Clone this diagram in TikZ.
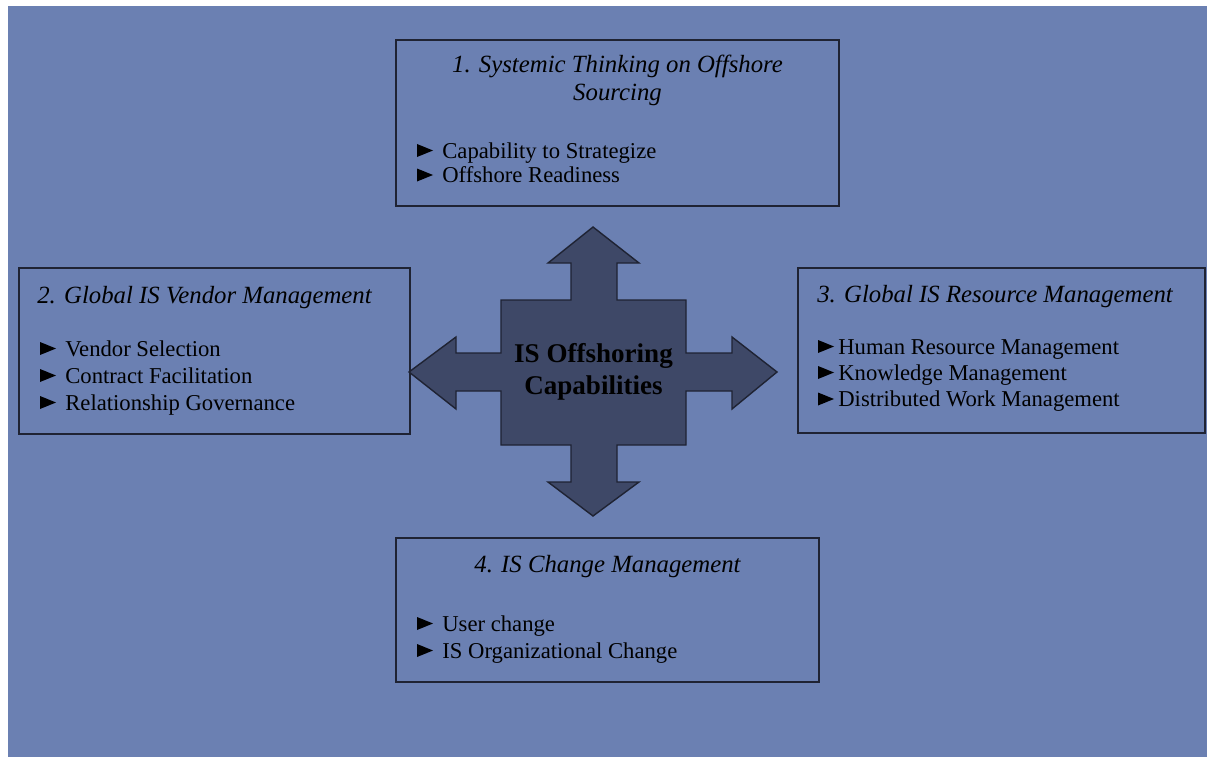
\documentclass[tikz,border=0pt]{standalone}
\usepackage{fontspec}
\setmainfont{Liberation Serif}
\definecolor{bgblue}{HTML}{6B80B2}
\definecolor{coredark}{HTML}{3E4867}
\definecolor{edge}{HTML}{1F2333}
\tikzset{areabox/.style={draw=edge,line width=1.1pt,inner sep=0pt},
  head/.style={inner sep=0pt,font=\fontsize{14.1}{17}\selectfont\itshape},
  itemtext/.style={inner sep=0pt,anchor=base west,font=\fontsize{12.9}{15}\selectfont}}
\newcommand{\area}[5]{\node[areabox,minimum width={(#4-#2)*0.02cm},minimum height={(#5-#3)*0.02cm}] (#1) at ({(#2+#4)/2},{(#3+#5)/2}) {};}
\newcommand{\bul}[5]{\fill (#2,#4-1) -- (#2,#4-14) -- (#2+16,#4-7.5) -- cycle;\node[itemtext] (#1) at (#3,#4) {#5};}

\begin{document}
\begin{tikzpicture}[x=0.02cm,y=-0.02cm]
    \useasboundingbox (0,0) rectangle (1207,757);
    \fill[bgblue] (8,6) rectangle (1207,757);
    % the four capability areas
    \area{A1}{396}{40}{839}{206}    \area{A2}{19}{268}{410}{434}
    \area{A3}{798}{268}{1205}{433}  \area{A4}{396}{538}{819}{682}
    \node[head,anchor=base] (h1) at (617.5,73) {1. Systemic Thinking on Offshore};
    \node[head,anchor=base] (h1b) at (617.5,101) {Sourcing};
    \bul{s1}{417}{442}{158}{Capability to Strategize}
    \bul{s2}{417}{442}{182.5}{Offshore Readiness}
    \node[head,anchor=base west] (h2) at (37,303) {2. Global IS Vendor Management};
    \bul{v1}{40}{65}{356}{Vendor Selection}
    \bul{v2}{40}{65}{383}{Contract Facilitation}
    \bul{v3}{40}{65}{410}{Relationship Governance}
    \node[head,anchor=base west] (h3) at (817,302) {3. Global IS Resource Management};
    \bul{r1}{818}{838}{354}{Human Resource Management}
    \bul{r2}{818}{838}{380}{Knowledge Management}
    \bul{r3}{818}{838}{406.5}{Distributed Work Management}
    \node[head,anchor=base] (h4) at (607.5,572) {4. IS Change Management};
    \bul{c1}{417}{442}{631}{User change}
    \bul{c2}{417}{442}{658}{IS Organizational Change}
    % central four-way arrow
    \draw[edge,fill=coredark,line width=0.8pt,line join=miter]
      (593,227) -- (639,263) -- (617,263) -- (617,300) -- (686,300) -- (686,353)
      -- (732,353) -- (732,337) -- (777,372) -- (732,409) -- (732,391) -- (686,391)
      -- (686,445) -- (617,445) -- (617,482) -- (639,482) -- (593,516) -- (548,482)
      -- (571,482) -- (571,445) -- (501,445) -- (501,391) -- (456,391) -- (456,409)
      -- (409,372) -- (456,337) -- (456,353) -- (501,353) -- (501,300) -- (571,300)
      -- (571,263) -- (548,263) -- cycle;
    \node[inner sep=0pt,align=center,font=\fontsize{15.4}{18.1}\selectfont\bfseries] (core) at (593.5,372) {IS Offshoring\\Capabilities};
    \end{tikzpicture}
\end{document}
